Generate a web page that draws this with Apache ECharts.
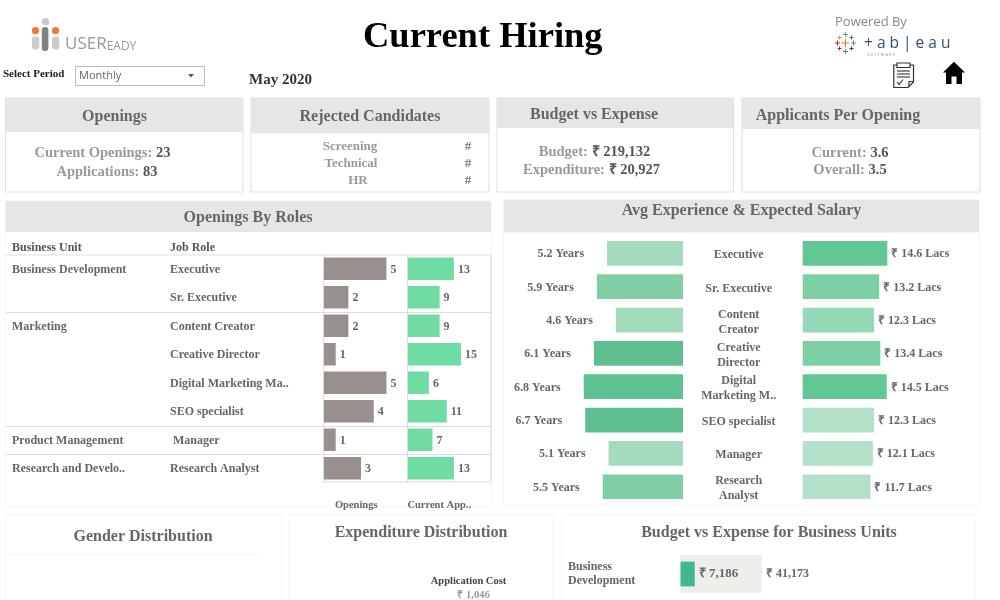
<!DOCTYPE html>
<html>
<head>
<meta charset="utf-8">
<script src="https://cdn.jsdelivr.net/npm/echarts@6/dist/echarts.min.js"></script>
<style>
html, body { margin: 0; padding: 0; background: #fff; }
#main { width: 1000px; height: 600px; }
</style>
</head>
<body>
<div id="main"></div>
<script>
// openings by roles
var businessUnits = ['Business Development', '', 'Marketing', '', '', '', 'Product Management', 'Research and Develo..'];
var jobRoles = ['Executive', 'Sr. Executive', 'Content Creator', 'Creative Director', 'Digital Marketing Ma..', 'SEO specialist', ' Manager', 'Research Analyst'];
var openings = [5, 2, 2, 1, 5, 4, 1, 3];
var currentApps = [13, 9, 9, 15, 6, 11, 7, 13];

// avg experience & expected salary
var roleLabels = ['Executive', 'Sr. Executive', 'Content\nCreator', 'Creative\nDirector', 'Digital\nMarketing M..', 'SEO specialist', 'Manager', 'Research\nAnalyst'];
var experience = [5.2, 5.9, 4.6, 6.1, 6.8, 6.7, 5.1, 5.5];
var salary = [14.6, 13.2, 12.3, 13.4, 14.5, 12.3, 12.1, 11.7];
var experienceColors = ['#a6dabf', '#80cda6', '#a3dabc', '#5fbf91', '#5fc092', '#5dbf90', '#a6dabf', '#80cda6'];
var salaryColors = ['#60c795', '#7dcfa6', '#96d9b7', '#7dcfa6', '#60c795', '#b3e0c8', '#b4dfc8', '#b4dfc8'];

// budget vs expense for business units
var budgetUnits = ['Business\nDevelopment'];
var budgetValues = [41173];
var expenseValues = [7186];

var serif = '"Liberation Serif", "Times New Roman", serif';
var sans = '"Open Sans", "DejaVu Sans", sans-serif';
var grey = '#666';

function txt(x, y, text, size, color, align, extra) {
    var style = {
        x: x, y: y + 1, text: text,
        fontFamily: serif, fontWeight: 'bold', fontSize: size,
        fill: color, align: align || 'center', verticalAlign: 'middle'
    };
    for (var k in extra) style[k] = extra[k];
    return { type: 'text', silent: true, z: 5, style: style };
}

// label + value on one line, two tones
function kv(x, y, label, value) {
    return txt(x, y, '{a|' + label + ' }{b|' + value + '}', 14.5, '#999', 'center', {
        rich: {
            a: { fontFamily: serif, fontWeight: 'bold', fontSize: 14.5, fill: '#999' },
            b: { fontFamily: serif, fontWeight: 'bold', fontSize: 14.5, fill: '#555' }
        }
    });
}

function box(x, y, w, h, fill, stroke) {
    return {
        type: 'rect', silent: true, z: 1,
        shape: { x: x, y: y, width: w, height: h },
        style: { fill: fill, stroke: stroke || null, lineWidth: 1 }
    };
}

function line(x1, y1, x2, y2, color, w) {
    return {
        type: 'line', silent: true, z: 2,
        shape: { x1: x1, y1: y1, x2: x2, y2: y2 },
        style: { stroke: color, lineWidth: w || 1 }
    };
}

function circle(x, y, r, color) {
    return { type: 'circle', silent: true, z: 3, shape: { cx: x, cy: y, r: r }, style: { fill: color } };
}

function plus(x, y, r, color) {
    return [line(x - r, y, x + r, y, color, 1), line(x, y - r, x, y + r, color, 1)];
}

function poly(type, points, style) {
    return { type: type, silent: true, z: 3, shape: { points: points }, style: style };
}

var g = [];

// panels
g.push(box(5.5, 98, 237.5, 94, '#fff', '#ddd'), box(5.5, 98, 237.5, 34, '#e6e6e6'));
g.push(box(251, 98, 238, 94, '#fff', '#ddd'), box(251, 98, 238, 35.5, '#e6e6e6'));
g.push(box(497, 98, 236.5, 94, '#fff', '#ddd'), box(497, 98, 236.5, 30, '#e6e6e6'));
g.push(box(742, 98, 238, 94, '#fff', '#ddd'), box(742, 98, 238, 31, '#e6e6e6'));
g.push(box(5.5, 201, 485.5, 306, '#fff', '#f4f4f4'), box(6, 201, 485, 31, '#e6e6e6'));
g.push(box(503.5, 200, 475.5, 305, '#fff', '#f4f4f4'), box(504, 200, 475, 32.5, '#e6e6e6'));
g.push(box(5.5, 515, 276, 90, '#fff', '#f4f4f4'), box(289, 515, 264, 90, '#fff', '#f4f4f4'), box(562, 515, 413, 90, '#fff', '#f4f4f4'));
g.push(line(8, 554, 258, 554, '#f2f2f2'));

// panel headings
g.push(txt(114.5, 116, 'Openings', 16, grey));
g.push(txt(370, 116, 'Rejected Candidates', 16, grey));
g.push(txt(594, 114, 'Budget vs Expense', 16, grey));
g.push(txt(838, 115, 'Applicants Per Opening', 16, grey));
g.push(txt(248, 217, 'Openings By Roles', 16, grey));
g.push(txt(741.5, 210, 'Avg Experience & Expected Salary', 16, grey));
g.push(txt(143, 535.5, 'Gender Distribution', 16, grey));
g.push(txt(421, 532, 'Expenditure Distribution', 16, grey));
g.push(txt(769, 532, 'Budget vs Expense for Business Units', 16, grey));

// kpi text
g.push(kv(102.5, 152.5, 'Current Openings:', '23'));
g.push(kv(107, 171.5, 'Applications:', '83'));
g.push(txt(350, 146, 'Screening', 13, '#999'), txt(351, 163, 'Technical', 13, '#999'), txt(358, 180, 'HR', 13, '#999'));
g.push(txt(468, 146, '#', 13, '#777'), txt(468, 163, '#', 13, '#777'), txt(468, 180, '#', 13, '#777'));
g.push(kv(594.5, 151.5, 'Budget:', '₹ 219,132'));
g.push(kv(591.5, 169, 'Expenditure:', '₹ 20,927'));
g.push(kv(850, 152, 'Current:', '3.6'));
g.push(kv(850, 169.5, 'Overall:', '3.5'));

// top strip
g.push(txt(3, 73, 'Select Period', 11, '#222', 'left'));
g.push(box(75.5, 66.5, 129, 19, '#fff', '#bbb'));
g.push(txt(79, 75, 'Monthly', 11, '#666', 'left', { fontFamily: sans, fontWeight: 'normal' }));
g.push(poly('polygon', [[188, 74], [194, 74], [191, 77.5]], { fill: '#555' }));
g.push(txt(249, 79, 'May 2020', 15, '#333', 'left'));

// useready logo
g.push(circle(45.5, 21.7, 3.6, '#c8c8c8'), circle(35.5, 30.7, 3.6, '#ee7a33'), circle(55.5, 30.7, 3.6, '#ee7a33'));
g.push({ type: 'rect', silent: true, z: 3, shape: { x: 32, y: 36.5, width: 7.3, height: 13, r: 3 }, style: { fill: '#ccc' } });
g.push({ type: 'rect', silent: true, z: 3, shape: { x: 41.8, y: 27, width: 6.6, height: 24, r: 3 }, style: { fill: '#808080' } });
g.push({ type: 'rect', silent: true, z: 3, shape: { x: 52, y: 36.5, width: 7.3, height: 13, r: 3 }, style: { fill: '#ccc' } });
g.push(txt(65, 43, '{a|USER}{b|EADY}', 17, '#999', 'left', {
    rich: {
        a: { fontFamily: sans, fontSize: 17, fill: '#999', fontWeight: 'normal' },
        b: { fontFamily: sans, fontSize: 12, fill: '#999', fontWeight: 'normal', verticalAlign: 'bottom' }
    }
}));

// tableau logo
g.push(txt(835, 21, 'Powered By', 13, '#888', 'left', { fontFamily: sans, fontWeight: 'normal' }));
g = g.concat(plus(845.5, 43, 4, '#e8762b'), plus(845.5, 34.5, 2.5, '#7099a6'), plus(845.5, 51.5, 2.5, '#59879b'),
    plus(837.5, 43, 2.5, '#c72035'), plus(853.5, 43, 2.5, '#5b879b'), plus(839.5, 37.5, 2, '#eb9129'),
    plus(851.5, 37.5, 2, '#5b6591'), plus(839.5, 48.5, 2, '#c72035'), plus(851.5, 48.5, 2, '#1f447f'));
g.push(txt(864, 43, '+ a b | e a u', 15.5, '#34506e', 'left', { fontFamily: sans, fontWeight: 'normal' }));
g.push(txt(867, 53.5, 'S O F T W A R E', 4, '#8a9ab0', 'left', { fontFamily: sans, fontWeight: 'normal' }));

// report icon
var iconStroke = { fill: 'none', stroke: '#333', lineWidth: 1.2 };
g.push(poly('polyline', [[897, 65], [893.8, 65], [893.8, 87.5], [908, 87.5], [913.5, 82], [913.5, 65], [910, 65]], iconStroke));
g.push(poly('polygon', [[897, 63], [910, 63], [910, 67.5], [897, 67.5]], iconStroke));
g.push(poly('polyline', [[909, 87], [909, 81.5], [913.5, 81.5]], iconStroke));
g.push(line(897, 71, 910, 71, '#444', 1.2), line(897, 74, 910, 74, '#444', 1.2), line(897, 77, 910, 77, '#444', 1.2));
g.push(poly('polyline', [[897, 82], [899, 84.5], [903, 79.5]], iconStroke));

// home icon
g.push(poly('polygon', [[954, 61.8], [965, 72.5], [962, 72.5], [962, 84], [956.5, 84], [956.5, 76.5], [951.5, 76.5], [951.5, 84], [946, 84], [946, 72.5], [943, 72.5]], { fill: '#000' }));

// table head and group rules
g.push(txt(12, 247, 'Business Unit', 12, '#555', 'left'), txt(170, 247, 'Job Role', 12, '#555', 'left'));
g.push(line(6, 255, 491, 255, '#ddd', 1.2), line(6, 312.5, 491, 312.5, '#ddd', 1.2), line(6, 426.5, 491, 426.5, '#ddd', 1.2), line(6, 454.5, 491, 454.5, '#ddd', 1.2));
g.push(line(323, 482, 491, 482, '#ddd', 1.2), line(491, 255, 491, 482, '#ddd', 1.2));

// treemap leftover on the expenditure tile
g.push(txt(468.5, 580, 'Application Cost', 10.5, '#444'));
g.push(txt(473.5, 594, '₹ 1,046', 10.5, '#999'));

var boldLabel = { fontFamily: serif, fontWeight: 'bold', fontSize: 12, color: grey };

function catAxis(grid, data, extra) {
    var axis = {
        type: 'category', gridIndex: grid, data: data, inverse: true, z: 6,
        axisTick: { show: false }, axisLine: { show: false },
        axisLabel: { show: false }
    };
    for (var k in extra) axis[k] = extra[k];
    return axis;
}

function valAxis(grid, max, extra) {
    var axis = {
        type: 'value', gridIndex: grid, min: 0, max: max, z: 6,
        axisLabel: { show: false }, axisTick: { show: false },
        axisLine: { show: false }, splitLine: { show: false }
    };
    for (var k in extra) axis[k] = extra[k];
    return axis;
}

function colored(values, colors) {
    return values.map(function (v, i) {
        return { value: v, itemStyle: { color: colors[i] } };
    });
}

function rupee(p) {
    return '₹ ' + p.value.toLocaleString('en-US');
}

// the two column names sit left of their grid centres
function tableAxisName(shift) {
    return {
        nameLocation: 'middle', nameGap: 17,
        nameTextStyle: { fontFamily: serif, fontWeight: 'bold', fontSize: 10.5, color: '#666', padding: [0, shift, 0, 0] }
    };
}

var option = {
    animation: false,
    backgroundColor: '#fff',
    title: {
        text: 'Current Hiring', left: 358, top: 14,
        textStyle: { fontFamily: serif, fontWeight: 'bold', fontSize: 36.5, color: '#000' }
    },
    graphic: g,
    grid: [
        { left: 323, top: 254.5, width: 84.5, height: 228 },
        { left: 407.5, top: 254.5, width: 83.5, height: 228 },
        { left: 503, top: 236.7, width: 180, height: 266.7 },
        { left: 802.7, top: 236.7, width: 175, height: 266.7 },
        { left: 680.5, top: 555, width: 200, height: 38 },
        // label-only grids, nudged down so the text sits where the reference has it
        { left: 323, top: 255.5, width: 84.5, height: 228 },
        { left: 802.7, top: 238.7, width: 175, height: 266.7 }
    ],
    xAxis: [
        valAxis(0, 6.66, Object.assign({ name: 'Openings' }, tableAxisName(18))),
        valAxis(1, 23.4, Object.assign({ name: 'Current App..' }, tableAxisName(20))),
        valAxis(2, 12.33, { inverse: true }),
        valAxis(3, 30.2),
        valAxis(4, 101000),
        valAxis(5, 1),
        valAxis(6, 1)
    ],
    yAxis: [
        catAxis(0, jobRoles, { axisLine: { show: true, lineStyle: { color: '#ddd', width: 1 } } }),
        catAxis(1, jobRoles, { axisLine: { show: true, lineStyle: { color: '#ddd', width: 1 } } }),
        catAxis(2, roleLabels, { position: 'right' }),
        catAxis(3, roleLabels),
        catAxis(4, budgetUnits, {
            axisLabel: Object.assign({ show: true, align: 'left', margin: 112.5, lineHeight: 14 }, boldLabel)
        }),
        // second axis so the expense bar keeps its own width and stays centred on the budget bar
        catAxis(4, budgetUnits),
        catAxis(5, jobRoles, {
            axisLabel: Object.assign({ show: true, interval: 0, align: 'left', margin: 153 }, boldLabel)
        }),
        catAxis(5, businessUnits, {
            position: 'left',
            axisLabel: Object.assign({ show: true, interval: 0, align: 'left', margin: 311 }, boldLabel)
        }),
        catAxis(6, roleLabels, {
            axisLabel: Object.assign({ show: true, interval: 0, align: 'center', margin: 64, lineHeight: 15 }, boldLabel)
        })
    ],
    series: [
        {
            type: 'bar', xAxisIndex: 0, yAxisIndex: 0, data: openings, barWidth: 22.5,
            itemStyle: { color: '#998f8c' },
            label: Object.assign({ show: true, position: 'right', distance: 4, offset: [0, 1] }, boldLabel)
        },
        {
            type: 'bar', xAxisIndex: 1, yAxisIndex: 1, data: currentApps, barWidth: 22.5,
            itemStyle: { color: '#6edca3' },
            label: Object.assign({ show: true, position: 'right', distance: 4, offset: [0, 1] }, boldLabel)
        },
        {
            type: 'bar', xAxisIndex: 2, yAxisIndex: 2, data: colored(experience, experienceColors), barWidth: 24.7,
            label: Object.assign({ show: true, position: 'left', distance: 23, offset: [0, 1], formatter: '{c} Years' }, boldLabel)
        },
        {
            type: 'bar', xAxisIndex: 3, yAxisIndex: 3, data: colored(salary, salaryColors), barWidth: 24.7,
            label: Object.assign({ show: true, position: 'right', distance: 4, offset: [0, 1], formatter: '₹ {c} Lacs' }, boldLabel)
        },
        {
            type: 'bar', xAxisIndex: 4, yAxisIndex: 4, data: budgetValues, barWidth: 38,
            itemStyle: { color: '#eeeeeb' },
            label: Object.assign({ show: true, position: 'right', distance: 4, formatter: rupee }, boldLabel)
        },
        {
            type: 'bar', xAxisIndex: 4, yAxisIndex: 5, data: expenseValues, barWidth: 24.7,
            itemStyle: { color: '#3db88f' },
            label: Object.assign({ show: true, position: 'right', distance: 4, formatter: rupee }, boldLabel, { fontSize: 13 })
        }
    ]
};

var myChart = echarts.init(document.getElementById('main'));
myChart.setOption(option);
</script>
</body>
</html>
